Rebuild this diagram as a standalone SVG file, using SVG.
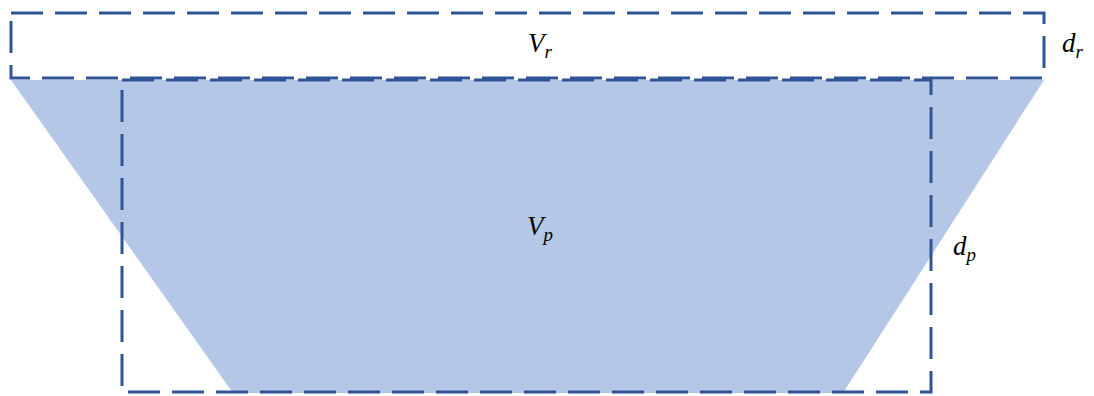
<svg xmlns="http://www.w3.org/2000/svg" width="1094" height="396" viewBox="0 0 1094 396">
<style>
.box{fill:none;stroke:#2F5597;stroke-width:3;stroke-dasharray:32 12}
.lbl{font-family:"Liberation Serif",serif;font-style:italic;font-size:27px;fill:#000}
.sub{font-size:19px}
</style>
<rect width="1094" height="396" fill="#fff"/>
<g id="pit">
<polygon points="11,80 1044,80 843,393 233,393" fill="#B4C7E7"/>
</g>
<g id="vr">
<rect class="box" x="11" y="13" width="1033" height="65"/>
<text class="lbl" x="528" y="52">V<tspan class="sub" dy="6">r</tspan></text>
</g>
<g id="vp">
<rect class="box" x="122" y="80" width="809" height="312"/>
<text class="lbl" x="527" y="235">V<tspan class="sub" dy="6">p</tspan></text>
</g>
<g id="dr"><text class="lbl" x="1062" y="52">d<tspan class="sub" dy="6">r</tspan></text></g>
<g id="dp"><text class="lbl" x="953" y="255">d<tspan class="sub" dy="6">p</tspan></text></g>
<g id="connectors"></g>
</svg>
